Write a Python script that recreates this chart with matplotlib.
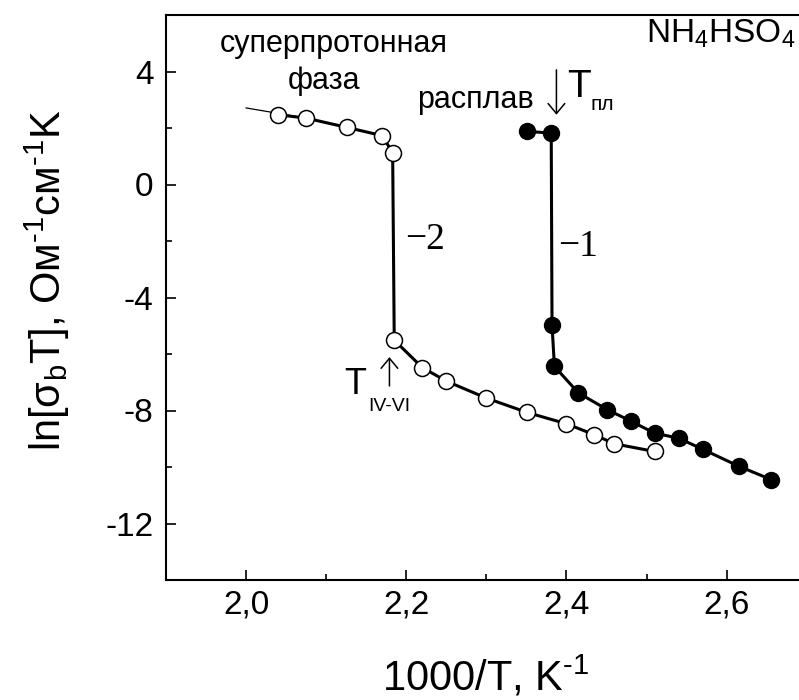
import numpy as np
import matplotlib
matplotlib.use("Agg")
import matplotlib.pyplot as plt
from matplotlib.ticker import MultipleLocator, FuncFormatter

plt.rcParams['font.family'] = ['Liberation Sans', 'DejaVu Sans']
plt.rcParams['mathtext.fontset'] = 'custom'
plt.rcParams['mathtext.rm'] = 'Liberation Sans'
plt.rcParams['mathtext.it'] = 'Liberation Sans:italic'
plt.rcParams['axes.unicode_minus'] = False

# curve 2 (open circles), superprotonic phase -> IV-VI transition
x_open = [2.040, 2.075, 2.126, 2.170, 2.183, 2.185, 2.220, 2.250, 2.300, 2.351, 2.400, 2.435, 2.460, 2.510]
y_open = [2.47, 2.35, 2.02, 1.73, 1.12, -5.51, -6.48, -6.96, -7.56, -8.07, -8.47, -8.86, -9.18, -9.45]
# thin extrapolation line at the high-T end
x_fit = [2.000, 2.075]
y_fit = [2.71, 2.35]

# curve 1 (filled circles), melt -> solid
x_fill = [2.351, 2.381, 2.382, 2.385, 2.415, 2.451, 2.480, 2.510, 2.540, 2.570, 2.615, 2.656]
y_fill = [1.88, 1.82, -4.98, -6.44, -7.38, -7.97, -8.37, -8.80, -8.98, -9.37, -9.97, -10.45]

xticks = [2.0, 2.2, 2.4, 2.6]
yticks = [-12, -8, -4, 0, 4]

fig = plt.figure(figsize=(7.99, 7.0), dpi=100)
ax = fig.add_axes([166/799, 1-580/700, (806.7-166)/799, (580-15)/700])

ax.plot(x_fit, y_fit, color='black', lw=0.9, zorder=2)
ax.plot(x_open, y_open, color='black', lw=2.2, marker='o', ms=11.5,
        mfc='white', mec='black', mew=1.1, zorder=3)
ax.plot(x_fill, y_fill, color='black', lw=2.2, marker='o', ms=11.5,
        mfc='black', mec='black', zorder=3)

ax.set_xlim(1.9, 2.7)
ax.set_ylim(-14, 6)
ax.set_xticks(xticks)
ax.set_yticks(yticks)
ax.xaxis.set_minor_locator(MultipleLocator(0.1))
ax.yaxis.set_minor_locator(MultipleLocator(2))
ax.xaxis.set_major_formatter(FuncFormatter(lambda v, p: f"{v:.1f}".replace('.', ',')))
ax.yaxis.set_major_formatter(FuncFormatter(lambda v, p: f"{v:.0f}"))
ax.tick_params(which='major', direction='in', length=7.5, width=1.2, labelsize=24, pad=7)
ax.tick_params(which='minor', direction='in', length=4, width=1.2)
ax.tick_params(axis='y', which='major', pad=9)
for s in ax.spines.values():
    s.set_linewidth(1.5)

fig.text(486/799, 10/700, r"1000/T, K$^{\text{-1}}$", fontsize=30, ha='center', va='baseline')
fig.text(47/799, 1-280/700, r"ln[σ$_\mathrm{b}$T], Ом$^{\text{-1}}$см$^{\text{-1}}$K",
         fontsize=30, rotation=90, ha='center', va='center')

# annotations
ax.text(2.109, 4.69, "суперпротонная", fontsize=22, ha='center', va='baseline')
ax.text(2.0975, 3.39, "фаза", fontsize=22, ha='center', va='baseline')
ax.text(2.214, 2.72, "расплав", fontsize=22, ha='left', va='baseline')
ax.text(2.686, 5.01, r"NH$_4$HSO$_4$", fontsize=24, ha='right', va='baseline')

ax.annotate('', xy=(2.3875, 2.47), xytext=(2.3875, 4.06),
            arrowprops=dict(arrowstyle='->,head_length=0.36,head_width=0.3',
                            lw=1.1, color='black', shrinkA=0, shrinkB=0, mutation_scale=20))
ax.text(2.401, 3.11, "T", fontsize=28, ha='left', va='baseline')
ax.text(2.430, 2.65, "пл", fontsize=15, ha='left', va='baseline')

ax.annotate('', xy=(2.179, -6.11), xytext=(2.179, -7.13),
            arrowprops=dict(arrowstyle='->,head_length=0.36,head_width=0.3',
                            lw=1.1, color='black', shrinkA=0, shrinkB=0, mutation_scale=20))
ax.text(2.1225, -7.41, "T", fontsize=26, ha='left', va='baseline')
ax.text(2.1525, -8.01, "IV-VI", fontsize=14, ha='left', va='baseline')

ax.text(2.199, -2.29, "\u22122", fontsize=27, family='Liberation Serif', ha='left', va='baseline')
ax.text(2.389, -2.54, "\u22121", fontsize=27, family='Liberation Serif', ha='left', va='baseline')

fig.savefig("out.png", dpi=100)
